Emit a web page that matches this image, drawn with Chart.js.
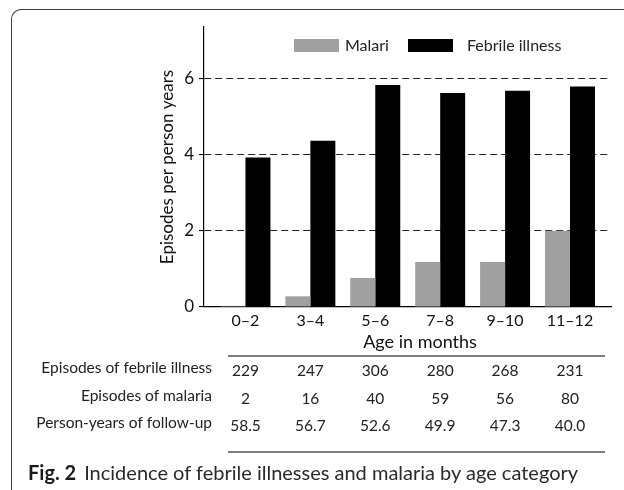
<!DOCTYPE html>
<html>
<head>
<meta charset="utf-8">
<script src="https://cdn.jsdelivr.net/npm/chart.js@4/dist/chart.umd.min.js"></script>
<style>
  html, body { margin: 0; padding: 0; background: #fff; }
  body { width: 624px; height: 490px; overflow: hidden; position: relative; font-family: Lato, sans-serif; }
  #frame { position: absolute; left: 11px; top: 9px; width: 700px; height: 600px;
           border-left: 1.5px solid #3a3a3a; border-top: 1.5px solid #3a3a3a; border-top-left-radius: 10px; }
  #wrap { position: absolute; left: 0; top: 0; width: 624px; height: 490px; }
  #caption { position: absolute; left: 28px; top: 460px; font-size: 20px; color: #2a2a2a; white-space: nowrap; }
  #caption b { color: #1a1a1a; margin-right: 8px; }
</style>
</head>
<body>
<div id="frame"></div>
<div id="wrap"><canvas id="c" width="624" height="490"></canvas></div>
<div id="caption"><b>Fig. 2</b>Incidence of febrile illnesses and malaria by age category</div>
<script>
// ---- data ----
const categories = ['0–2', '3–4', '5–6', '7–8', '9–10', '11–12'];
const malariaRate = [0.03, 0.28, 0.76, 1.18, 1.18, 2.00];
const febrileRate = [3.92, 4.36, 5.82, 5.61, 5.67, 5.78];
const yTickValues = [0, 2, 4, 6];
const seriesNames = ['Malari', 'Febrile illness'];
const rowLabels = ['Episodes of febrile illness', 'Episodes of malaria', 'Person-years of follow-up'];
const febrileEpisodes = ['229', '247', '306', '280', '268', '231'];
const malariaEpisodes = ['2', '16', '40', '59', '56', '80'];
const personYears = ['58.5', '56.7', '52.6', '49.9', '47.3', '40.0'];

Chart.defaults.font.family = 'Lato, sans-serif';
Chart.defaults.color = '#222';

const overlay = {
  id: 'overlay',
  afterDraw(chart) {
    const ctx = chart.ctx;
    const xs = chart.scales.x;
    const ds = chart.data.datasets;
    ctx.save();
    // legend
    ctx.font = '16px Lato, sans-serif';
    ctx.textBaseline = 'middle';
    ctx.textAlign = 'left';
    const items = [
      { sx: 294, tx: 345 },
      { sx: 408, tx: 467 }
    ];
    items.forEach((it, i) => {
      ctx.fillStyle = ds[i].backgroundColor;
      ctx.fillRect(it.sx, 39, 45, 13);
      ctx.fillStyle = '#222';
      ctx.fillText(ds[i].label, it.tx, 46);
    });
    // x axis title
    ctx.font = '18px Lato, sans-serif';
    ctx.textAlign = 'center';
    ctx.fillStyle = '#111';
    ctx.fillText('Age in months', 420, 342);
    // table
    ctx.strokeStyle = '#000';
    ctx.lineWidth = 1.2;
    [356, 452].forEach(y => {
      ctx.beginPath(); ctx.moveTo(228, y); ctx.lineTo(605, y); ctx.stroke();
    });
    const rows = [febrileEpisodes, malariaEpisodes, personYears];
    const rowY = [371, 398.5, 426];
    ctx.font = '15.5px Lato, sans-serif';
    rows.forEach((row, r) => {
      ctx.textAlign = 'right';
      ctx.fillStyle = '#222';
      ctx.fillText(rowLabels[r], 212, rowY[r] - 3);
      ctx.textAlign = 'center';
      row.forEach((v, i) => {
        ctx.fillText(v, xs.getPixelForValue(i), rowY[r]);
      });
    });
    ctx.restore();
  }
};

new Chart(document.getElementById('c'), {
  type: 'bar',
  data: {
    datasets: [
      { label: seriesNames[0], data: malariaRate.map((v, i) => ({ x: i, y: v })), backgroundColor: '#a0a0a0' },
      { label: seriesNames[1], data: febrileRate.map((v, i) => ({ x: i, y: v })), backgroundColor: '#000000' }
    ]
  },
  options: {
    responsive: false,
    animation: false,
    devicePixelRatio: 1,
    layout: { padding: { left: 0, right: 13, top: 27, bottom: 0 } },
    plugins: { legend: { display: false }, tooltip: { enabled: false } },
    datasets: { bar: { categoryPercentage: 0.77, barPercentage: 1.0 } },
    scales: {
      x: {
        type: 'linear',
        offset: false,
        min: -0.639,
        max: 5.632,
        afterBuildTicks: s => { s.ticks = categories.map((_, i) => ({ value: i })); },
        afterFit: s => { s.height = 183; },
        grid: { display: false, drawTicks: false, offset: false },
        border: { display: true, color: '#000', width: 1.2 },
        ticks: {
          padding: 4,
          font: { size: 16 },
          color: '#111',
          autoSkip: false,
          maxRotation: 0,
          callback: v => categories[v]
        }
      },
      y: {
        min: 0,
        max: 7.34,
        afterBuildTicks: s => { s.ticks = yTickValues.map(v => ({ value: v })); },
        afterFit: s => { s.width = 204; },
        grid: {
          color: c => (c.tick && c.tick.value === 0) ? 'rgba(0,0,0,0)' : '#222',
          lineWidth: 1.1,
          drawTicks: true,
          tickLength: 5,
          tickColor: '#000',
          tickBorderDash: [],
          tickWidth: 1.1
        },
        border: { display: true, color: '#000', width: 1.2, dash: [7, 4] },
        ticks: { padding: 5, font: { size: 17 }, color: '#111', callback: v => String(v) },
        title: {
          display: true,
          text: 'Episodes per person years',
          font: { size: 17 },
          color: '#111',
          padding: { top: 157, bottom: 0 }
        }
      }
    }
  },
  plugins: [overlay]
});
</script>
</body>
</html>
